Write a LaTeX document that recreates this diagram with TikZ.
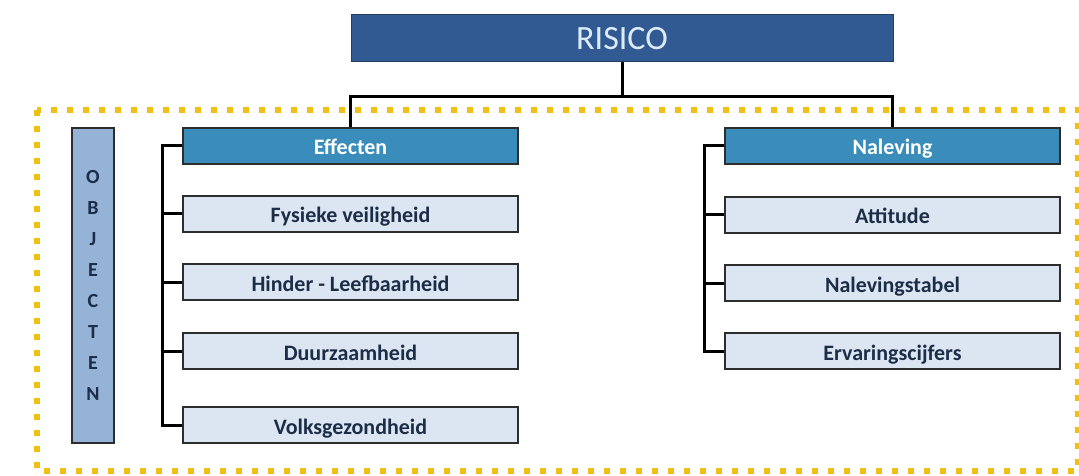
\documentclass[tikz,border=0pt]{standalone}
\usepackage{fontspec}
\setmainfont{Carlito}
\usepackage{xcolor}
\definecolor{risicoblue}{RGB}{48,90,145}
\definecolor{risicotext}{RGB}{222,236,250}
\definecolor{headblue}{RGB}{58,141,186}
\definecolor{sublight}{RGB}{220,230,242}
\definecolor{objblue}{RGB}{149,179,215}
\definecolor{navytext}{RGB}{28,45,72}
\definecolor{boxedge}{RGB}{45,45,45}
\definecolor{dotyellow}{RGB}{240,192,20}

\tikzset{
  topbox/.style={draw=risicoblue!70!black,line width=1pt,fill=risicoblue,
    minimum width=542pt,minimum height=47pt,inner sep=0pt,
    text=risicotext,font=\fontsize{34}{40}\selectfont},
  headbox/.style={draw=boxedge,line width=2pt,fill=headblue,
    minimum width=335pt,minimum height=36pt,inner sep=0pt,
    text height=18pt,text depth=0pt,
    text=white,font=\bfseries\fontsize{22}{26}\selectfont},
  subbox/.style={draw=boxedge,line width=2pt,fill=sublight,
    minimum width=335pt,minimum height=36pt,inner sep=0pt,
    text height=18pt,text depth=0pt,
    text=navytext,font=\bfseries\fontsize{22}{26}\selectfont},
  objbox/.style={draw=boxedge,line width=2pt,fill=objblue,
    minimum width=42pt,minimum height=315pt,inner sep=0pt,align=center,
    text=navytext,font=\bfseries\fontsize{20}{31.1}\selectfont},
  tree/.style={line width=3pt,black},
  frame/.style={dotyellow,line width=6pt,dash pattern=on 6pt off 10pt}
}

\begin{document}
\begin{tikzpicture}[x=1pt,y=-1pt]
  \useasboundingbox (0,0) rectangle (1079,476);
  % dotted frame round the objects
  \draw[frame] (37,110) rectangle (1078,471);

  \node[topbox] (risico) at (622,38.5) {RISICO};
  \node[objbox] (objecten) at (93,285.5) {O\\B\\J\\E\\C\\T\\E\\N};

  % left column
  \node[headbox] (effecten) at (350.5,146) {Effecten};
  \node[subbox] (fysiek) at (350.5,213.5) {Fysieke veiligheid};
  \node[subbox] (hinder) at (350.5,282) {Hinder - Leefbaarheid};
  \node[subbox] (duurzaam) at (350.5,351) {Duurzaamheid};
  \node[subbox] (volks) at (350.5,425) {Volksgezondheid};

  % right column
  \node[headbox] (naleving) at (892.5,146) {Naleving};
  \node[subbox] (attitude) at (892.5,214.5) {Attitude};
  \node[subbox] (tabel) at (892.5,283) {Nalevingstabel};
  \node[subbox] (cijfers) at (892.5,351) {Ervaringscijfers};

  % connectors
  \coordinate (split) at (622,97);
  \draw[tree] (risico.south) -- (split);
  \draw[tree] (effecten.north) |- (split) -| (naleving.north);
  \draw[tree] (effecten.west) -- ++(-20,0) |- (volks.west);
  \foreach \n in {fysiek,hinder,duurzaam}
    \draw[tree] (\n.west) -- ++(-20,0);
  \draw[tree] (naleving.west) -- ++(-20,0) |- (cijfers.west);
  \foreach \n in {attitude,tabel}
    \draw[tree] (\n.west) -- ++(-20,0);
\end{tikzpicture}
\end{document}
